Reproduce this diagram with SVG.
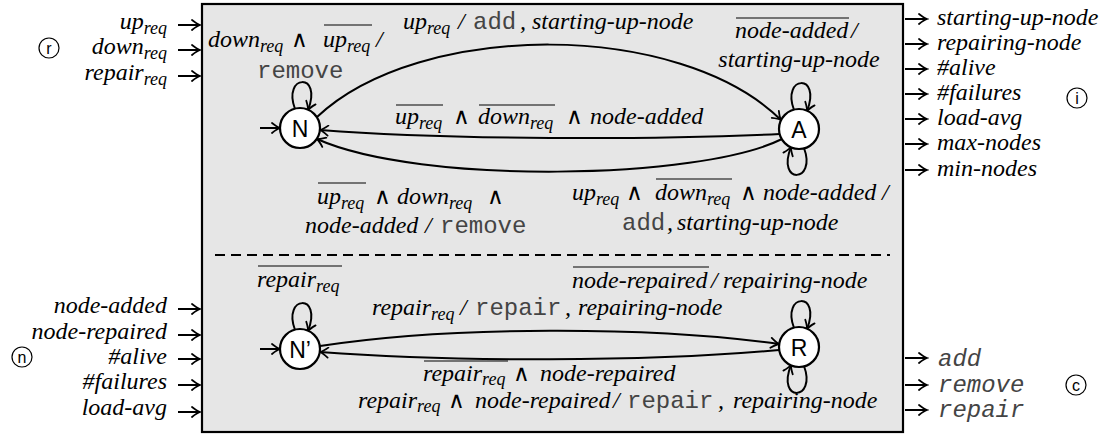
<svg xmlns="http://www.w3.org/2000/svg" width="1112" height="436" viewBox="0 0 1112 436">
<style>
.t{font-family:"Liberation Serif","DejaVu Serif",serif;font-style:italic;font-size:24px;fill:#000}
.s{font-size:18px}
.o{font-family:"DejaVu Sans",sans-serif;font-style:normal;font-weight:200;font-size:23px}
.m{font-family:"Liberation Mono","DejaVu Sans Mono",monospace;font-style:normal;font-size:24px;fill:#444}
.mi{font-family:"Liberation Mono","DejaVu Sans Mono",monospace;font-style:italic;font-size:24px;fill:#444}
.e{text-anchor:end}
.mid{text-anchor:middle}
.n{font-family:"Liberation Sans",Arial,sans-serif;font-size:23px;text-anchor:middle;fill:#000}
.c{font-family:"Liberation Sans",Arial,sans-serif;font-size:16px;text-anchor:middle;fill:#000}
.ol{stroke:#000;stroke-width:1.1}
.st{fill:#fff;stroke:#000;stroke-width:2.2}
.cc{fill:none;stroke:#000;stroke-width:1.2}
.ed{fill:none;stroke:#000;stroke-width:2;marker-end:url(#ah)}
</style>
<defs>
<marker id="ah" viewBox="-10 -6 12 12" refX="0" refY="0" markerWidth="12" markerHeight="12" markerUnits="userSpaceOnUse" orient="auto">
<path d="M-8,-5 Q-3,-1 0,0 Q-3,1 -8,5" fill="none" stroke="#000" stroke-width="1.8" stroke-linecap="round"/>
</marker>
</defs>

<g id="component">
<rect x="202" y="4" width="701" height="428" fill="#e6e6e6" stroke="#000" stroke-width="2.2"/>
<path d="M215,255 L890,255" stroke="#000" stroke-width="2" stroke-dasharray="10 6" fill="none"/>
</g>

<g id="connectors">
<path class="ed" d="M260,128 L280,128"/>
<path class="ed" d="M260,349 L280,349"/>
<path class="ed" d="M317,117 C420,20 680,20 781,120"/>
<path class="ed" d="M780,134 C650,140 450,140 320,130"/>
<path class="ed" d="M782,139 C700,180 420,185 317,139"/>
<path class="ed" d="M320,346 C450,326 650,326 779,344"/>
<path class="ed" d="M779,350 C650,362 450,362 320,352"/>
<path class="ed" transform="translate(300,128)" d="M-5,-19 C-18,-54 23,-56 8,-18"/>
<path class="ed" transform="translate(799,129)" d="M-5,-19 C-18,-54 23,-56 8,-18"/>
<path class="ed" transform="translate(799,129)" d="M5,19 C18,54 -23,56 -8,18"/>
<path class="ed" transform="translate(300,349)" d="M-5,-19 C-18,-54 23,-56 8,-18"/>
<path class="ed" transform="translate(799,347)" d="M-5,-19 C-18,-54 23,-56 8,-18"/>
<path class="ed" transform="translate(799,347)" d="M5,19 C18,54 -23,56 -8,18"/>
<path class="ed" d="M178,25 L200,25"/>
<path class="ed" d="M178,50 L200,50"/>
<path class="ed" d="M178,76 L200,76"/>
<path class="ed" d="M178,309 L200,309"/>
<path class="ed" d="M178,335 L200,335"/>
<path class="ed" d="M178,359 L200,359"/>
<path class="ed" d="M178,385 L200,385"/>
<path class="ed" d="M178,412 L200,412"/>
<path class="ed" d="M905,19 L927,19"/>
<path class="ed" d="M905,44 L927,44"/>
<path class="ed" d="M905,69 L927,69"/>
<path class="ed" d="M905,94 L927,94"/>
<path class="ed" d="M905,119 L927,119"/>
<path class="ed" d="M905,144 L927,144"/>
<path class="ed" d="M905,170 L927,170"/>
<path class="ed" d="M905,358 L927,358"/>
<path class="ed" d="M905,385 L927,385"/>
<path class="ed" d="M905,410 L927,410"/>
</g>

<g id="node-N"><circle class="st" cx="300" cy="128" r="20"/><text class="n" x="300" y="136.5">N</text></g>
<g id="node-A"><circle class="st" cx="799" cy="129" r="20"/><text class="n" x="799" y="137.5">A</text></g>
<g id="node-Nprime"><circle class="st" cx="300" cy="349" r="20"/><text class="n" x="300" y="357.5">N’</text></g>
<g id="node-R"><circle class="st" cx="799" cy="347" r="20"/><text class="n" x="799" y="355.5">R</text></g>

<g id="transition-labels">
<text class="t" x="208" y="47">down<tspan class="s" dy="5">req</tspan><tspan class="o" x="291" y="47">∧</tspan><tspan x="323">up</tspan><tspan class="s" dy="5">req</tspan><tspan x="376" y="47">/</tspan></text>
<line class="ol" x1="324" y1="25" x2="372" y2="25"/>
<text class="m" x="257" y="78">remove</text>

<text class="t" x="403" y="29">up<tspan class="s" dy="5">req</tspan><tspan x="458" y="29">/</tspan><tspan class="m" x="473">add</tspan><tspan x="520">,</tspan><tspan x="532">starting-up-node</tspan></text>

<text class="t" x="735" y="38">node-added<tspan x="851">/</tspan></text>
<line class="ol" x1="736" y1="18" x2="849" y2="18"/>
<text class="t mid" x="799" y="67">starting-up-node</text>

<text class="t" x="395" y="124">up<tspan class="s" dy="5">req</tspan><tspan class="o" x="453" y="124">∧</tspan><tspan x="478">down</tspan><tspan class="s" dy="5">req</tspan><tspan class="o" x="566" y="124">∧</tspan><tspan x="590">node-added</tspan></text>
<line class="ol" x1="396" y1="105" x2="443" y2="105"/>
<line class="ol" x1="479" y1="105" x2="555" y2="105"/>

<text class="t" x="317" y="204">up<tspan class="s" dy="5">req</tspan><tspan class="o" x="374" y="204">∧</tspan><tspan x="397">down</tspan><tspan class="s" dy="5">req</tspan><tspan class="o" x="487" y="204">∧</tspan></text>
<line class="ol" x1="318" y1="183" x2="366" y2="183"/>
<text class="t" x="305" y="233">node-added<tspan x="425">/</tspan><tspan class="m" x="440">remove</tspan></text>

<text class="t" x="572" y="200">up<tspan class="s" dy="5">req</tspan><tspan class="o" x="626" y="200">∧</tspan><tspan x="655">down</tspan><tspan class="s" dy="5">req</tspan><tspan class="o" x="740" y="200">∧</tspan><tspan x="763">node-added</tspan><tspan x="882">/</tspan></text>
<line class="ol" x1="656" y1="179" x2="732" y2="179"/>
<text class="t" x="622" y="230"><tspan class="m">add</tspan><tspan x="667">,</tspan><tspan x="677">starting-up-node</tspan></text>

<text class="t" x="257" y="287">repair<tspan class="s" dy="5">req</tspan></text>
<line class="ol" x1="258" y1="266" x2="342" y2="266"/>

<text class="t" x="572" y="288">node-repaired<tspan x="711">/</tspan><tspan x="723">repairing-node</tspan></text>
<line class="ol" x1="573" y1="267" x2="709" y2="267"/>

<text class="t" x="372" y="315">repair<tspan class="s" dy="5">req</tspan><tspan x="460" y="315">/</tspan><tspan class="m" x="475">repair</tspan><tspan x="565">,</tspan><tspan x="578">repairing-node</tspan></text>

<text class="t" x="423" y="381">repair<tspan class="s" dy="4">req</tspan><tspan class="o" x="513" y="381">∧</tspan><tspan x="540">node-repaired</tspan></text>
<line class="ol" x1="424" y1="361" x2="508" y2="361"/>

<text class="t" x="358" y="408">repair<tspan class="s" dy="4">req</tspan><tspan class="o" x="448" y="408">∧</tspan><tspan x="475">node-repaired</tspan><tspan x="613">/</tspan><tspan class="m" x="627">repair</tspan><tspan x="718">,</tspan><tspan x="733">repairing-node</tspan></text>
</g>

<g id="inputs">
<text class="t e" x="167" y="29">up<tspan class="s" dy="5">req</tspan></text>
<text class="t e" x="167" y="54">down<tspan class="s" dy="5">req</tspan></text>
<text class="t e" x="167" y="80">repair<tspan class="s" dy="5">req</tspan></text>
<text class="t e" x="167" y="313">node-added</text>
<text class="t e" x="167" y="339">node-repaired</text>
<text class="t e" x="167" y="364">#alive</text>
<text class="t e" x="167" y="389">#failures</text>
<text class="t e" x="167" y="415">load-avg</text>
</g>

<g id="outputs">
<text class="t" x="937" y="25">starting-up-node</text>
<text class="t" x="937" y="50">repairing-node</text>
<text class="t" x="937" y="75">#alive</text>
<text class="t" x="937" y="100">#failures</text>
<text class="t" x="937" y="125">load-avg</text>
<text class="t" x="937" y="150">max-nodes</text>
<text class="t" x="937" y="176">min-nodes</text>
<text class="mi" x="938" y="366">add</text>
<text class="mi" x="938" y="392">remove</text>
<text class="mi" x="938" y="417">repair</text>
</g>

<g id="interface-markers">
<circle class="cc" cx="49" cy="48" r="10"/><text class="c" x="49" y="54">r</text>
<circle class="cc" cx="1077" cy="98" r="10"/><text class="c" x="1077" y="104">i</text>
<circle class="cc" cx="22" cy="357" r="10"/><text class="c" x="22" y="363">n</text>
<circle class="cc" cx="1076" cy="385" r="10"/><text class="c" x="1076" y="391">c</text>
</g>
</svg>
